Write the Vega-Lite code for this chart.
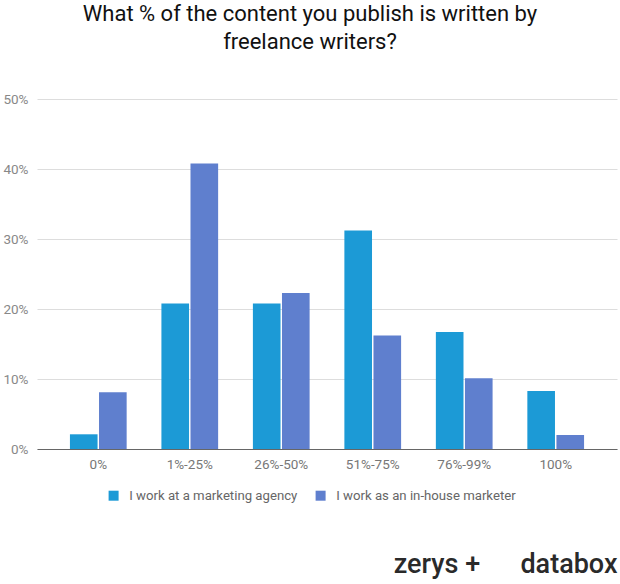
{
  "$schema": "https://vega.github.io/schema/vega-lite/v6.json",
  "width": 580,
  "height": 350,
  "autosize": {"type": "none"},
  "padding": {"left": 37, "top": 99, "right": 3, "bottom": 135},
  "background": "white",
  "title": {
    "text": ["What % of the content you publish is written by", "freelance writers?"],
    "font": "Roboto",
    "fontSize": 22,
    "fontWeight": "normal",
    "color": "#111111",
    "lineHeight": 28,
    "anchor": "middle",
    "dx": -17,
    "offset": 38
  },
  "data": {
    "values": [
      {"range": "0%", "group": "I work at a marketing agency", "value": 0.021},
      {"range": "0%", "group": "I work as an in-house marketer", "value": 0.081},
      {"range": "1%-25%", "group": "I work at a marketing agency", "value": 0.208},
      {"range": "1%-25%", "group": "I work as an in-house marketer", "value": 0.408},
      {"range": "26%-50%", "group": "I work at a marketing agency", "value": 0.208},
      {"range": "26%-50%", "group": "I work as an in-house marketer", "value": 0.223},
      {"range": "51%-75%", "group": "I work at a marketing agency", "value": 0.312},
      {"range": "51%-75%", "group": "I work as an in-house marketer", "value": 0.162},
      {"range": "76%-99%", "group": "I work at a marketing agency", "value": 0.167},
      {"range": "76%-99%", "group": "I work as an in-house marketer", "value": 0.101},
      {"range": "100%", "group": "I work at a marketing agency", "value": 0.083},
      {"range": "100%", "group": "I work as an in-house marketer", "value": 0.02}
    ]
  },
  "mark": {"type": "bar"},
  "encoding": {
    "x": {
      "field": "range",
      "type": "nominal",
      "sort": ["0%", "1%-25%", "26%-50%", "51%-75%", "76%-99%", "100%"],
      "scale": {"paddingInner": 0.38, "paddingOuter": 0.36},
      "axis": {
        "title": "zerys +\u00a0\u00a0\u00a0\u00a0\u00a0\u00a0databox",
        "titleFont": "Roboto",
        "titleFontSize": 27,
        "titleFontWeight": 500,
        "titleColor": "#2a2a2a",
        "titleAlign": "right",
        "titleAnchor": "end",
        "titleX": 580,
        "titleY": 123,
        "titleBaseline": "alphabetic",
        "labelAngle": 0,
        "labelFont": "Roboto",
        "labelFontSize": 13.5,
        "labelColor": "#777777",
        "labelPadding": 8,
        "ticks": false,
        "domainColor": "#666666",
        "grid": false
      }
    },
    "xOffset": {
      "field": "group",
      "type": "nominal",
      "sort": ["I work at a marketing agency", "I work as an in-house marketer"],
      "scale": {"paddingInner": 0.05}
    },
    "y": {
      "field": "value",
      "type": "quantitative",
      "scale": {"domain": [0, 0.5]},
      "axis": {
        "title": null,
        "format": ".0%",
        "values": [0, 0.1, 0.2, 0.3, 0.4, 0.5],
        "labelOverlap": false,
        "labelFont": "Roboto",
        "labelFontSize": 13.5,
        "labelColor": "#888888",
        "labelPadding": 9,
        "ticks": false,
        "domain": false,
        "gridColor": "#dddddd"
      }
    },
    "color": {
      "field": "group",
      "type": "nominal",
      "sort": ["I work at a marketing agency", "I work as an in-house marketer"],
      "scale": {"range": ["#1c9ad6", "#5f7fce"]},
      "legend": {
        "title": null,
        "orient": "none",
        "direction": "horizontal",
        "legendX": 70,
        "legendY": 390,
        "symbolType": "square",
        "symbolSize": 100,
        "symbolStrokeWidth": 0,
        "labelFont": "Roboto",
        "labelFontSize": 13.2,
        "labelLimit": 400,
        "labelColor": "#666666",
        "labelOffset": 9,
        "columnPadding": 16
      }
    }
  },
  "config": {"view": {"stroke": null}}
}
